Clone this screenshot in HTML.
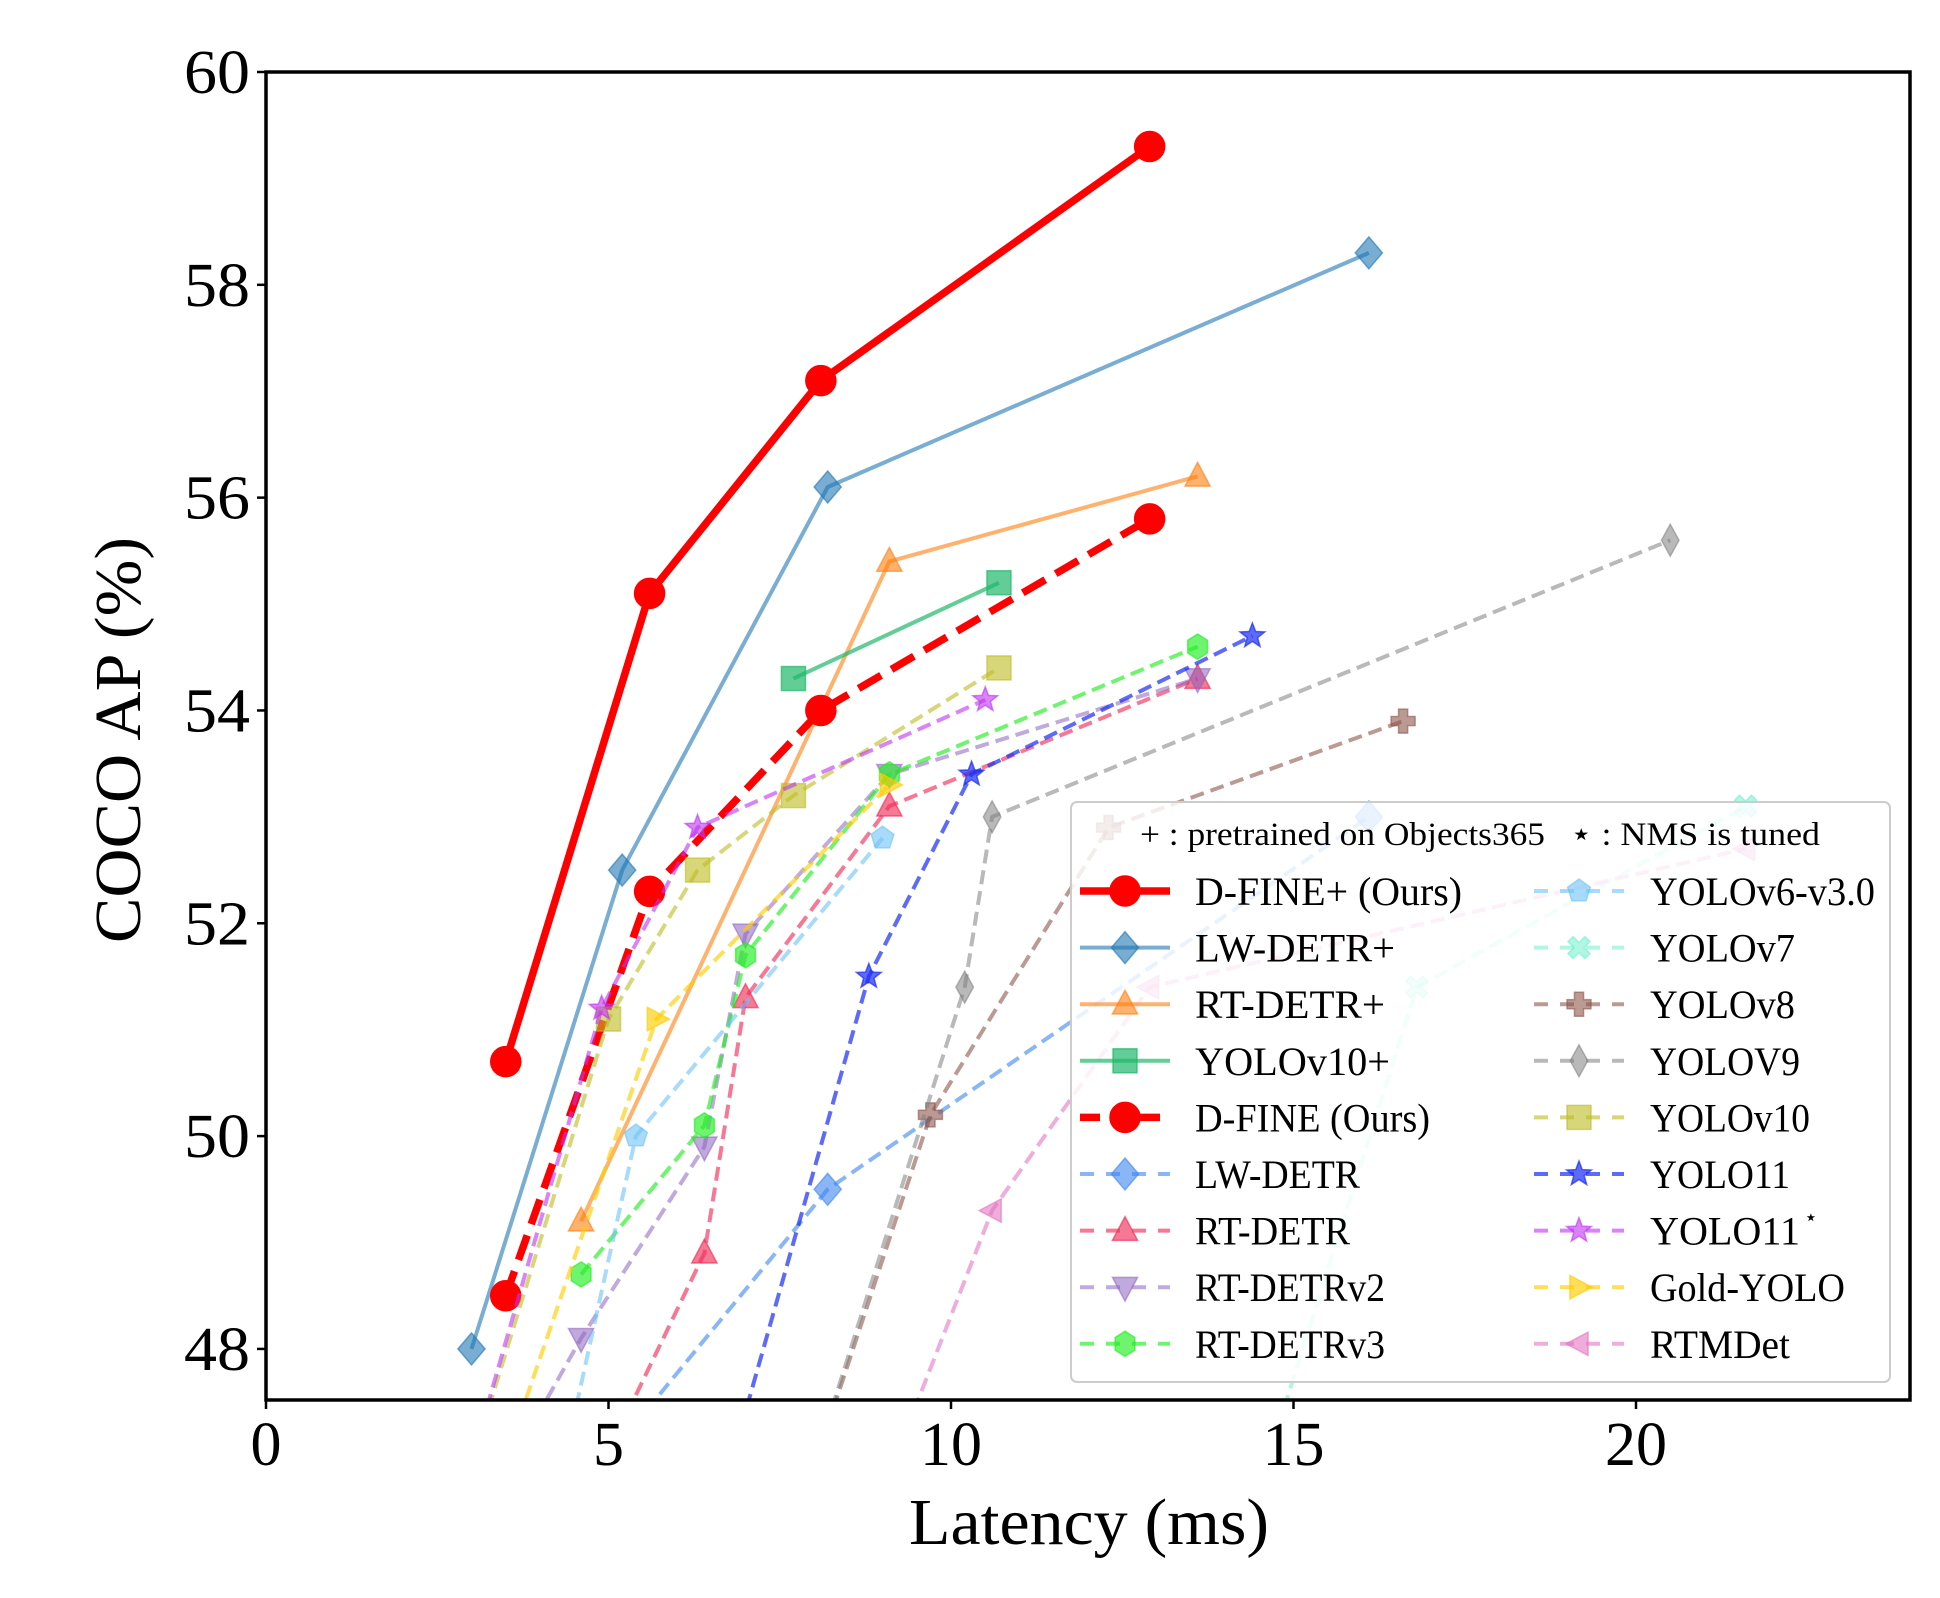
<!DOCTYPE html>
<html><head><meta charset="utf-8"><style>
html,body{margin:0;padding:0;background:#fff}
svg{display:block}
text{font-family:"Liberation Serif",serif;fill:#000}
</style></head><body>
<svg id="chart" width="1940" height="1598" viewBox="0 0 1940 1598" xmlns="http://www.w3.org/2000/svg"></svg>
<script>
const xTicks=[0,5,10,15,20];
const yTicks=[48,50,52,54,56,58,60];
const seriesNames=["D-FINE+ (Ours)","LW-DETR+","RT-DETR+","YOLOv10+","D-FINE (Ours)","LW-DETR","RT-DETR","RT-DETRv2","RT-DETRv3","YOLOv6-v3.0","YOLOv7","YOLOv8","YOLOV9","YOLOv10","YOLO11","YOLO11*","Gold-YOLO","RTMDet"];
const dfinePlusX=[3.5,5.6,8.1,12.9];const dfinePlusY=[50.7,55.1,57.1,59.3];
const lwPlusX=[3.0,5.2,8.2,16.1];const lwPlusY=[48.0,52.5,56.1,58.3];
const rtPlusX=[4.6,9.1,13.6];const rtPlusY=[49.2,55.4,56.2];
const y10PlusX=[7.7,10.7];const y10PlusY=[54.3,55.2];
const dfineX=[3.5,5.6,8.1,12.9];const dfineY=[48.5,52.3,54.0,55.8];
const lwX=[4.0,8.2,16.1];const lwY=[46.2,49.5,53.0];
const rtX=[4.6,6.4,7.0,9.1,13.6];const rtY=[46.5,48.9,51.3,53.1,54.3];
const rt2X=[3.2,4.6,6.4,7.0,9.1,13.6];const rt2Y=[46.5,48.1,49.9,51.9,53.4,54.3];
const rt3X=[4.6,6.4,7.0,9.1,13.6];const rt3Y=[48.7,50.1,51.7,53.4,54.6];
const y6X=[4.2,5.4,9.0];const y6Y=[46.5,50.0,52.8];
const y7X=[14.4,16.8,21.6];const y7Y=[46.5,51.4,53.1];
const y8X=[7.8,9.7,12.3,16.6];const y8Y=[46.5,50.2,52.9,53.9];
const y9X=[7.8,10.2,10.6,20.5];const y9Y=[46.5,51.4,53.0,55.6];
const y10X=[2.8,5.0,6.3,7.7,10.7];const y10Y=[46.5,51.1,52.5,53.2,54.4];
const y11X=[6.6,8.8,10.3,14.4];const y11Y=[46.5,51.5,53.4,54.7];
const y11sX=[2.8,4.9,6.3,10.5];const y11sY=[46.5,51.2,52.9,54.1];
const goldX=[3.3,5.7,9.1];const goldY=[46.6,51.1,53.3];
const rtmX=[8.9,10.6,12.9,21.6];const rtmY=[46.5,49.3,51.4,52.7];

const L=266,R=1910,T=72,B=1400,XMIN=0,XMAX=24,YMIN=47.52,YMAX=60;
const sx=v=>L+(v-XMIN)/(XMAX-XMIN)*(R-L);
const sy=v=>B-(v-YMIN)/(YMAX-YMIN)*(B-T);
const NS="http://www.w3.org/2000/svg";
const svg=document.getElementById('chart');
function mk(tag,attrs,parent){const e=document.createElementNS(NS,tag);for(const k in attrs)e.setAttribute(k,attrs[k]);(parent||svg).appendChild(e);return e;}

const defs=mk('defs',{});
const cp=mk('clipPath',{id:'clip'},defs);mk('rect',{x:L,y:T,width:R-L,height:B-T},cp);

const S=[
 {x:dfinePlusX,y:dfinePlusY,c:'#ff0000',a:1,w:7.5,d:'',m:'circle',r:15,slug:'dfine-plus'},
 {x:lwPlusX,y:lwPlusY,c:'#1f77b4',a:0.6,w:4,d:'',m:'diamond',r:16,slug:'lw-detr-plus'},
 {x:rtPlusX,y:rtPlusY,c:'#ff7f0e',a:0.6,w:4,d:'',m:'tri',r:14,slug:'rt-detr-plus'},
 {x:y10PlusX,y:y10PlusY,c:'#1fb86a',a:0.7,w:4,d:'',m:'square',r:12,slug:'yolov10-plus'},
 {x:dfineX,y:dfineY,c:'#ff0000',a:1,w:7.5,d:'26 12',m:'circle',r:15,slug:'dfine'},
 {x:lwX,y:lwY,c:'#3d85f0',a:0.6,w:4,d:'14 7',m:'diamond',r:16,slug:'lw-detr'},
 {x:rtX,y:rtY,c:'#f0305a',a:0.65,w:4,d:'14 7',m:'tri',r:14,slug:'rt-detr'},
 {x:rt2X,y:rt2Y,c:'#8c62c0',a:0.55,w:4,d:'14 7',m:'tridown',r:14,slug:'rt-detrv2'},
 {x:rt3X,y:rt3Y,c:'#22ee22',a:0.65,w:4,d:'14 7',m:'hex',r:12,slug:'rt-detrv3'},
 {x:y6X,y:y6Y,c:'#6ec3f5',a:0.6,w:4,d:'14 7',m:'pent',r:12,slug:'yolov6'},
 {x:y7X,y:y7Y,c:'#60f0c8',a:0.5,w:4,d:'14 7',m:'x',r:12,slug:'yolov7'},
 {x:y8X,y:y8Y,c:'#8c564b',a:0.6,w:4,d:'14 7',m:'plus',r:12,slug:'yolov8'},
 {x:y9X,y:y9Y,c:'#7f7f7f',a:0.55,w:4,d:'14 7',m:'thin',r:16,slug:'yolov9'},
 {x:y10X,y:y10Y,c:'#bcbd22',a:0.6,w:4,d:'14 7',m:'square',r:12,slug:'yolov10'},
 {x:y11X,y:y11Y,c:'#1a2cf5',a:0.7,w:4,d:'14 7',m:'star',r:13,slug:'yolo11'},
 {x:y11sX,y:y11sY,c:'#c030f5',a:0.6,w:4,d:'14 7',m:'star',r:13,slug:'yolo11-star'},
 {x:goldX,y:goldY,c:'#ffcc00',a:0.65,w:4,d:'14 7',m:'tri-right',r:13,slug:'gold-yolo'},
 {x:rtmX,y:rtmY,c:'#e377c2',a:0.6,w:4,d:'14 7',m:'tri-left',r:13,slug:'rtmdet'}
];

function marker(type,cx,cy,r,c,a,parent){
 const st={fill:c,'fill-opacity':a,stroke:c,'stroke-opacity':a,'stroke-width':1.5};
 let pts=null;
 if(type==='circle')return mk('circle',Object.assign({cx,cy,r},st),parent);
 if(type==='square')return mk('rect',Object.assign({x:cx-r,y:cy-r,width:2*r,height:2*r},st),parent);
 if(type==='diamond')pts=[[0,-r],[r*0.85,0],[0,r],[-r*0.85,0]];
 if(type==='thin')pts=[[0,-r],[r*0.55,0],[0,r],[-r*0.55,0]];
 if(type==='tri')pts=[[0,-r],[r*0.9,r*0.7],[-r*0.9,r*0.7]];
 if(type==='tridown')pts=[[0,r],[r*0.9,-r*0.7],[-r*0.9,-r*0.7]];
 if(type==='tri-right')pts=[[r,0],[-r*0.7,r*0.9],[-r*0.7,-r*0.9]];
 if(type==='tri-left')pts=[[-r,0],[r*0.7,r*0.9],[r*0.7,-r*0.9]];
 if(type==='hex'){pts=[];for(let i=0;i<6;i++){const t=Math.PI/6+i*Math.PI/3;pts.push([r*Math.cos(t)*0.95,r*Math.sin(t)*1.05]);}}
 if(type==='pent'){pts=[];for(let i=0;i<5;i++){const t=-Math.PI/2+i*2*Math.PI/5;pts.push([r*Math.cos(t),r*Math.sin(t)]);}}
 if(type==='star'){pts=[];for(let i=0;i<10;i++){const t=-Math.PI/2+i*Math.PI/5;const rr=i%2?r*0.42:r;pts.push([rr*Math.cos(t),rr*Math.sin(t)]);}}
 if(type==='plus'){const w=r*0.38;pts=[[-w,-r],[w,-r],[w,-w],[r,-w],[r,w],[w,w],[w,r],[-w,r],[-w,w],[-r,w],[-r,-w],[-w,-w]];}
 if(type==='x'){const w=r*0.3;const base=[[-w,-r],[w,-r],[w,-w],[r,-w],[r,w],[w,w],[w,r],[-w,r],[-w,w],[-r,w],[-r,-w],[-w,-w]];const k=Math.SQRT1_2;pts=base.map(([x,y])=>[(x-y)*k,(x+y)*k]);}
 return mk('polygon',Object.assign({points:pts.map(p=>(cx+p[0])+','+(cy+p[1])).join(' ')},st),parent);
}

// plot
const plot=mk('g',{'clip-path':'url(#clip)'});


S.forEach(s=>{
 const g=mk('g',{},plot);
 
 
 const pl=mk('polyline',{points:s.x.map((v,i)=>sx(v)+','+sy(s.y[i])).join(' '),fill:'none',stroke:s.c,'stroke-opacity':s.a,'stroke-width':s.w,'stroke-dasharray':s.d,'stroke-linejoin':'round'},g);
 
 
 s.x.forEach((v,i)=>{
  const m=marker(s.m,sx(v),sy(s.y[i]),s.r,s.c,s.a,g);
  
  
 });
});

// axes frame
const frame=mk('rect',{x:L,y:T,width:R-L,height:B-T,fill:'none',stroke:'#000','stroke-width':3.5});



xTicks.forEach(v=>{
 mk('line',{x1:sx(v),x2:sx(v),y1:B,y2:B+9,stroke:'#000','stroke-width':2.5});
 const t=mk('text',{x:sx(v),y:1465,'text-anchor':'middle','font-size':62});
 t.textContent=v;
 
 
});
yTicks.forEach(v=>{
 mk('line',{x1:L-9,x2:L,y1:sy(v),y2:sy(v),stroke:'#000','stroke-width':2.5});
 const t=mk('text',{x:250,y:sy(v)+21,'text-anchor':'end','font-size':62,textLength:66,lengthAdjust:'spacingAndGlyphs'});
 t.textContent=v;
 
 
});
const xt=mk('text',{x:1089,y:1544,'text-anchor':'middle','font-size':66,textLength:360,lengthAdjust:'spacingAndGlyphs'});
xt.textContent='Latency (ms)';


const yt=mk('text',{x:0,y:0,'text-anchor':'middle','font-size':66,textLength:406,lengthAdjust:'spacingAndGlyphs',transform:'translate(140,740) rotate(-90)'});
yt.textContent='COCO AP (%)';



// legend
const lg=mk('g',{});


mk('rect',{x:1071,y:802,width:819,height:580,rx:6,fill:'#fff','fill-opacity':0.82,stroke:'#ccc','stroke-width':2},lg);
const h=mk('text',{x:1140,y:845,'font-size':33,textLength:405,lengthAdjust:'spacingAndGlyphs'},lg);
h.textContent='+ :  pretrained on Objects365';


const h2=mk('text',{x:1570,y:845,'font-size':33,textLength:250,lengthAdjust:'spacingAndGlyphs'},lg);
h2.textContent='\u22c6 :  NMS is tuned';


const widths=[267,200,190,195,235,165,155,190,190,225,145,145,150,160,140,150,195,140];
S.forEach((s,i)=>{
 const col=i<9?0:1,row=i%9;
 const cy=891+row*56.6;
 const mx=col?1579:1125, tx=col?1650:1195;
 const e=mk('g',{},lg);
 
 
 mk('line',{x1:mx-45,x2:mx+45,y1:cy,y2:cy,stroke:s.c,'stroke-opacity':s.a,'stroke-width':s.w,'stroke-dasharray':s.d?(s.w>5?'20 10':'14 12'):''},e);
 marker(s.m,mx,cy,s.r,s.c,s.a,e);
 const t=mk('text',{x:tx,y:cy+14,'font-size':40,textLength:widths[i],lengthAdjust:'spacingAndGlyphs'},e);
 t.textContent=seriesNames[i]==='YOLO11*'?'YOLO11':seriesNames[i];
 if(seriesNames[i]==='YOLO11*'){const st=mk('text',{x:tx+widths[i]+4,y:cy-6,'font-size':22},e);st.textContent='\u22c6';}
});
</script>
</body></html>
